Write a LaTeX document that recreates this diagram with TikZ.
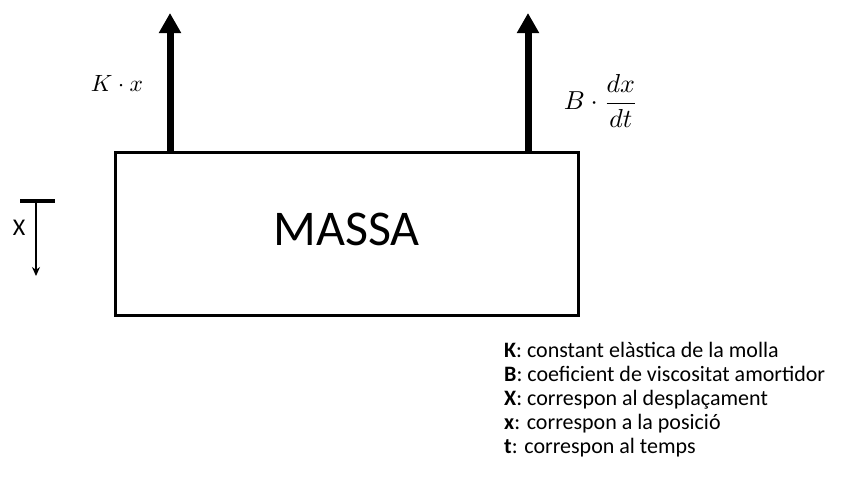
\documentclass[tikz,border=0pt]{standalone}
\usepackage{graphicx}
\usepackage{fontspec}
\setmainfont{Carlito}
\usetikzlibrary{arrows.meta}

\begin{document}
\begin{tikzpicture}[
    x=1pt, y=-1pt,
    massabox/.style={
        rectangle, draw=black, line width=3pt,
        minimum width=463pt, minimum height=163pt, inner sep=0pt
    },
    force/.style={-{Triangle[width=21pt,length=20pt]}, line width=7pt},
    disparrow/.style={-{Stealth[width=8pt,length=9pt]}, line width=2pt},
    mathlbl/.style={inner sep=0pt},
    legend/.style={font=\fontsize{22}{24}\selectfont, anchor=base west, inner sep=0pt},
]
\useasboundingbox (0,0) rectangle (851,477);

% ── Mass block ───────────────────────────────────────────────
\node[massabox] (massa) at (346.5,234) {};
\node[font=\fontsize{50}{56}\selectfont, inner sep=0pt] (massalbl)
    at ([yshift=5pt]massa.center) {MASSA};

% ── Forces on the block ──────────────────────────────────────
\coordinate (ktip) at (170,13);
\coordinate (btip) at (528,13);
\draw[force] (massa.north -| ktip) -- (ktip);
\draw[force] (massa.north -| btip) -- (btip);

\node[mathlbl] (klbl) at (117,83) {\scalebox{2.35}{$K\cdot x$}};
\node[mathlbl] (blbl) at (601,101) {\scalebox{2.6}{$\displaystyle B\cdot\frac{dx}{dt}$}};

% ── Displacement reference ───────────────────────────────────
\coordinate (xbarl) at (20,201);
\coordinate (xbarr) at (55,201);
\coordinate (xtop) at (36,201);
\coordinate (xtip) at (36,276);
\draw[line width=4pt] (xbarl) -- (xbarr);
\draw[disparrow] (xtop) -- (xtip);
\node[font=\fontsize{24}{28}\selectfont, inner sep=0pt] (xlbl) at (19,228) {X};

% ── Legend ───────────────────────────────────────────────────
\node[legend] (legK) at (504,357) {\textbf{K}: constant elàstica de la molla};
\node[legend] (legB) at (504,381) {\textbf{B}: coeficient de viscositat amortidor};
\node[legend] (legX) at (504,405) {\textbf{X}: correspon al desplaçament};
\node[legend] (legx) at (504,429) {\textbf{x}: correspon a la posició};
\node[legend] (legt) at (504,453) {\textbf{t}: correspon al temps};

\end{tikzpicture}
\end{document}
